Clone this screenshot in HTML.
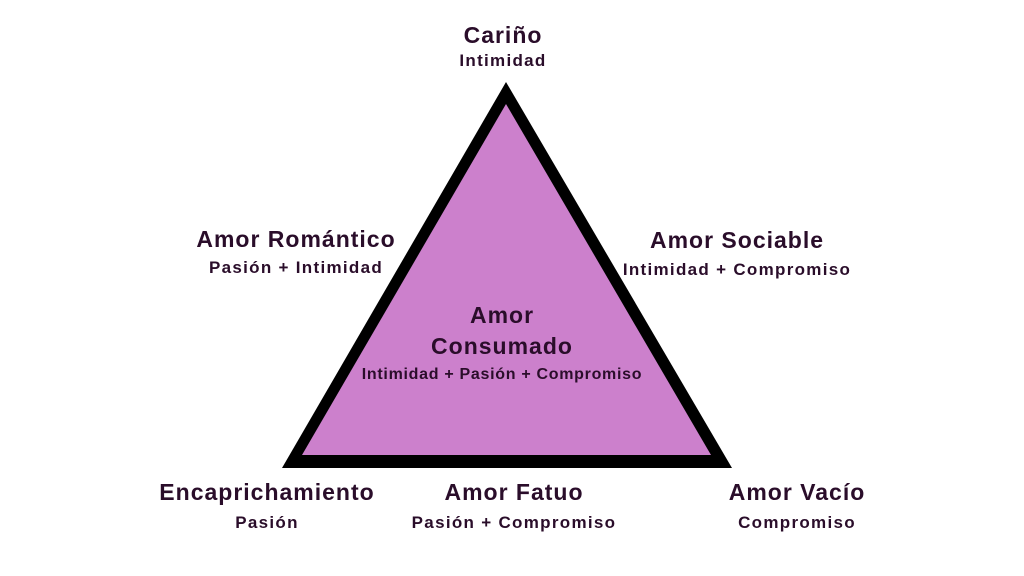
<!DOCTYPE html>
<html><head><meta charset="utf-8"><style>
body{margin:0;width:1024px;height:576px;background:#fff;overflow:hidden;position:relative;font-family:"Liberation Sans",sans-serif;color:#2a0d2a;font-weight:bold}
.t{position:absolute;text-align:center;transform:translateX(-50%);white-space:nowrap;line-height:1}
.h{font-size:23px;letter-spacing:1px}.s{font-size:17px;letter-spacing:1.3px}
.c{font-size:16px;letter-spacing:0.7px}
</style></head><body>
<svg width="1024" height="576" style="position:absolute;left:0;top:0">
<polygon points="506,82 282,468 732,468" fill="#000"/>
<polygon points="506,104 302,455 711,455" fill="#cc80cc"/>
</svg>
<div class="t h" style="left:503px;top:24px">Cariño</div>
<div class="t s" style="left:503px;top:52px">Intimidad</div>
<div class="t h" style="left:296px;top:228px">Amor Romántico</div>
<div class="t s" style="left:296px;top:259px">Pasión + Intimidad</div>
<div class="t h" style="left:737px;top:229px">Amor Sociable</div>
<div class="t s" style="left:737px;top:261px">Intimidad + Compromiso</div>
<div class="t h" style="left:502px;top:304px">Amor</div>
<div class="t h" style="left:502px;top:335px">Consumado</div>
<div class="t c" style="left:502px;top:367px">Intimidad + Pasión + Compromiso</div>
<div class="t h" style="left:267px;top:481px">Encaprichamiento</div>
<div class="t s" style="left:267px;top:514px">Pasión</div>
<div class="t h" style="left:514px;top:481px">Amor Fatuo</div>
<div class="t s" style="left:514px;top:514px">Pasión + Compromiso</div>
<div class="t h" style="left:797px;top:481px">Amor Vacío</div>
<div class="t s" style="left:797px;top:514px">Compromiso</div>
</body></html>
